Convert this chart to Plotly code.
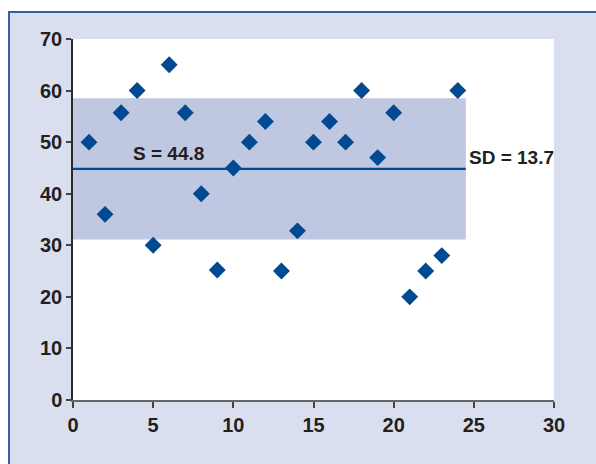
import plotly.graph_objects as go

x_vals = list(range(1, 25))
y_vals = [50, 36, 55.7, 60, 30, 65, 55.7, 40, 25.2, 45, 50, 54, 25, 32.8,
          50, 54, 50, 60, 47, 55.7, 20, 25, 28, 60]
mean_val = 44.8
sd_val = 13.7
band_end = 24.5
x_ticks = [0, 5, 10, 15, 20, 25, 30]
y_ticks = [0, 10, 20, 30, 40, 50, 60, 70]

W, H = 596, 464
L, T = 73, 39
R = W - 554
B = H - 400
pw, ph = W - L - R, H - T - B

def px(p):
    return (p - L) / pw

def py(p):
    return (H - B - p) / ph

FONT = "Liberation Sans, Arial, sans-serif"
TXT = "#231f20"
BLUE = "#004a93"
FRAME = "#3462a8"

fig = go.Figure()
fig.add_trace(go.Scatter(
    x=x_vals, y=y_vals, mode="markers",
    marker=dict(symbol="diamond", size=13, color=BLUE, line=dict(width=0)),
    cliponaxis=False, showlegend=False))
fig.add_trace(go.Scatter(
    x=[0, band_end], y=[mean_val, mean_val], mode="lines",
    line=dict(color=BLUE, width=2.2), showlegend=False, hoverinfo="skip"))

shapes = [
    dict(type="rect", xref="x", yref="y", x0=0, x1=band_end,
         y0=mean_val - sd_val, y1=mean_val + sd_val,
         fillcolor="#bfc7e1", line=dict(width=0), layer="below"),
    dict(type="rect", xref="paper", yref="paper", x0=px(-5), x1=px(W + 5),
         y0=py(12), y1=py(-5), fillcolor="white", line=dict(width=0)),
    dict(type="rect", xref="paper", yref="paper", x0=px(-5), x1=px(8),
         y0=py(H + 5), y1=py(12), fillcolor="white", line=dict(width=0)),
    dict(type="line", xref="paper", yref="paper", x0=px(8), x1=px(W + 5),
         y0=py(12), y1=py(12), line=dict(color=FRAME, width=2)),
    dict(type="line", xref="paper", yref="paper", x0=px(9), x1=px(9),
         y0=py(12), y1=py(H + 5), line=dict(color=FRAME, width=2)),
]

annotations = [
    dict(x=3.6, y=mean_val, xref="x", yref="y", text="S = 44.8",
         showarrow=False, xanchor="left", yanchor="bottom", yshift=3,
         font=dict(family=FONT, size=19, color=TXT, weight="bold")),
    dict(x=band_end, y=mean_val, xref="x", yref="y", text="SD = 13.7",
         showarrow=False, xanchor="left", yanchor="middle", xshift=1, yshift=11,
         font=dict(family=FONT, size=19, color=TXT, weight="bold")),
]

tickfont = dict(family=FONT, size=20, color=TXT, weight="bold")

fig.update_layout(
    width=W, height=H,
    margin=dict(l=L, r=R, t=T, b=B, pad=0),
    paper_bgcolor="#dadff0", plot_bgcolor="white",
    shapes=shapes, annotations=annotations,
    xaxis=dict(range=[0, 30], tickvals=x_ticks, showgrid=False, zeroline=False,
               showline=True, linecolor="#666666", linewidth=2,
               ticks="outside", ticklen=6, tickwidth=1.5, tickcolor="#444444",
               tickfont=tickfont),
    yaxis=dict(range=[0, 70], tickvals=y_ticks, showgrid=False, zeroline=False,
               showline=True, linecolor="#2a2a2a", linewidth=1.5,
               ticks="outside", ticklen=5, tickwidth=1.5, tickcolor="#444444",
               tickfont=tickfont),
)

fig.write_html(
    "out.html",
    config={"displayModeBar": False},
    post_script=("document.documentElement.style.overflow='hidden';"
                 "document.body.style.overflow='hidden';"
                 "document.body.style.margin='0';"))
